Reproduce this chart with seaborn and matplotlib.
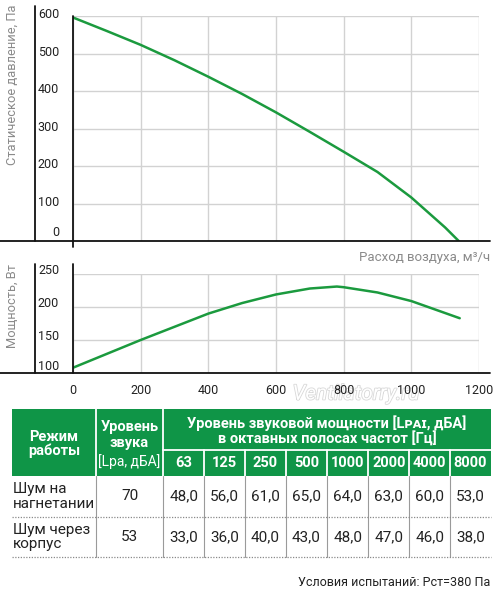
import pandas as pd
import seaborn as sns
import matplotlib.pyplot as plt
import matplotlib.patheffects as pe
from matplotlib.transforms import ScaledTranslation

# pressure curve
flow_p = [0, 100, 200, 300, 400, 500, 600, 700, 800, 900, 1000, 1050, 1100, 1140]
pressure = [596, 560, 523, 482, 438, 392, 343, 291, 238, 184, 116, 76, 36, 0]

# power curve
flow_w = [0, 100, 200, 300, 400, 500, 600, 700, 780, 800, 900, 1000, 1143]
power = [108, 129, 150, 170, 190, 206, 219, 228, 231, 230, 222, 209, 183]

# noise table
freqs = ["63", "125", "250", "500", "1000", "2000", "4000", "8000"]
modes = ["Шум на\nнагнетании", "Шум через\nкорпус"]
total_level = [70, 53]
octave_discharge = [48.0, 56.0, 61.0, 65.0, 64.0, 63.0, 60.0, 53.0]
octave_casing = [33.0, 36.0, 40.0, 43.0, 48.0, 47.0, 46.0, 38.0]

GREEN = "#1b9a3e"
HEAD = "#0f9547"
GRID = "#d2d2d2"
LABEL = "#8a8a8a"
TXT = "#222222"

sns.set_theme(style="white")
plt.rcParams["font.family"] = ["Roboto", "DejaVu Sans"]

fig = plt.figure(figsize=(5, 5.91), dpi=100)
W, H = 500, 591


def px_axes(left, top, right, bottom):
    return fig.add_axes([left / W, 1 - bottom / H, (right - left) / W, (bottom - top) / H])


def frame(ax, top_px, bot_px, first):
    h = bot_px - top_px
    for s in ["left", "right", "top", "bottom"]:
        ax.spines[s].set_visible(False)
    ax.grid(True, color=GRID, linewidth=1.0)
    ax.set_axisbelow(True)
    kw = dict(transform=ax.transAxes, clip_on=False, color="#111111", linewidth=1.3)
    ax.plot([-73 / 406, 417 / 406], [0, 0], **kw)
    ax.plot([-38 / 406, -38 / 406], [0, 1 + 10 / h], **kw)
    if first:
        ax.plot([0, 0], [-6 / h, 1], **kw)
    else:
        ax.plot([0, 0], [0, 1 + 10 / h], **kw)
    ax.tick_params(axis="y", length=0, pad=10, labelsize=9, labelcolor=TXT)


# top chart: pressure
ax1 = px_axes(73, 16, 479, 241)
df_p = pd.DataFrame({"flow": flow_p, "pressure": pressure})
sns.lineplot(data=df_p, x="flow", y="pressure", ax=ax1, color=GREEN, linewidth=1.8)
ax1.set_xlim(0, 1200)
ax1.set_ylim(0, 600)
ax1.set_xticks(range(0, 1201, 200))
ax1.set_yticks(range(0, 601, 100))
ax1.set_xticklabels([])
ax1.tick_params(axis="x", length=0)
frame(ax1, 16, 241, True)
ax1.set_xlabel("")
ax1.set_ylabel("")
for lab in ax1.get_yticklabels():
    dy = 10 if lab.get_text() == "0" else 3
    lab.set_transform(lab.get_transform() + ScaledTranslation(0, dy / 100, fig.dpi_scale_trans))
fig.text(12 / W, 1 - 85 / H, "Статическое давление, Па", rotation=90, ha="center", va="center",
         color=LABEL, fontsize=9.3)
fig.text(490 / W, 1 - 258 / H, "Расход воздуха, м³/ч", ha="right", va="center",
         color=LABEL, fontsize=9.5)

# bottom chart: power
ax2 = px_axes(73, 274, 479, 373)
df_w = pd.DataFrame({"flow": flow_w, "power": power})
sns.lineplot(data=df_w, x="flow", y="power", ax=ax2, color=GREEN, linewidth=1.8)
ax2.set_xlim(0, 1200)
ax2.set_ylim(100, 250)
ax2.set_xticks(range(0, 1201, 200))
ax2.set_yticks(range(100, 251, 50))
frame(ax2, 274, 373, False)
ax2.tick_params(axis="x", length=0, pad=8, labelsize=9, labelcolor=TXT)
ax2.set_xlabel("")
ax2.set_ylabel("")
for lab in ax2.get_yticklabels():
    dy = 8 if lab.get_text() == "100" else 5
    lab.set_transform(lab.get_transform() + ScaledTranslation(0, dy / 100, fig.dpi_scale_trans))
fig.text(12 / W, 1 - 306 / H, "Мощность, Вт", rotation=90, ha="center", va="center",
         color=LABEL, fontsize=9.3)

# overlay in pixel coordinates for the table
ov = fig.add_axes([0, 0, 1, 1], zorder=-1)
ov.set_xlim(0, W)
ov.set_ylim(H, 0)
ov.axis("off")

ov.text(356, 394, "Ventilatorry.ru", ha="center", va="center", fontsize=15, style="italic",
        color="white", path_effects=[pe.withStroke(linewidth=1.2, foreground="#d8d8d8")])

cols = [12, 96, 163, 204.3, 245, 286, 327, 368.3, 409.3, 450, 491]
top, mid, hbot = 409, 450, 476
rows = [476, 517, 557]

ov.add_patch(plt.Rectangle((cols[0], top), cols[-1] - cols[0], hbot - top, color=HEAD, lw=0))
for x in cols[1:3]:
    ov.plot([x, x], [top, hbot], color="white", lw=1.3)
for x in cols[3:-1]:
    ov.plot([x, x], [mid, hbot], color="white", lw=1.3)
ov.plot([cols[2], cols[-1]], [mid, mid], color="white", lw=1.3)
for x in cols[1:-1]:
    ov.plot([x, x], [hbot, rows[-1]], color="#9a9a9a", lw=0.8)
for y in rows[1:]:
    ov.plot([cols[0], cols[-1]], [y, y], color="#8a8a8a", lw=0.9, ls=(0, (1, 1.2)))

hd = dict(color="white", fontweight="bold", ha="center", va="center", fontsize=10.5)
ov.text((cols[0] + cols[1]) / 2, 444, "Режим\nработы", linespacing=1.0, **hd)
ov.text((cols[1] + cols[2]) / 2, 427, "Уровень", **hd)
ov.text((cols[1] + cols[2]) / 2, 443, "звука", **hd)
ov.text((cols[1] + cols[2]) / 2, 462, "[Lpa, дБА]", color="white", ha="center", va="center", fontsize=10)
ov.text((cols[2] + cols[-1]) / 2, 423, "Уровень звуковой мощности [Lᴘᴀɪ, дБА]", **hd)
ov.text((cols[2] + cols[-1]) / 2, 439, "в октавных полосах частот [Гц]", **hd)
for i, f in enumerate(freqs):
    ov.text((cols[i + 2] + cols[i + 3]) / 2, 463, f, **hd)

body = dict(color=TXT, ha="center", va="center", fontsize=11)
for r, (mode, tot, vals) in enumerate(zip(modes, total_level, [octave_discharge, octave_casing])):
    yc = (rows[r] + rows[r + 1]) / 2
    ov.text(cols[0] + 1, yc, mode, color=TXT, ha="left", va="center", fontsize=11, linespacing=1.05)
    ov.text((cols[1] + cols[2]) / 2, yc, str(tot), **body)
    for i, v in enumerate(vals):
        ov.text((cols[i + 2] + cols[i + 3]) / 2, yc, f"{v:.1f}".replace(".", ","), **body)

ov.text(490, 583, "Условия испытаний: Рст=380 Па", color=TXT, ha="right", va="center", fontsize=9)

fig.savefig("out.png", dpi=100)
